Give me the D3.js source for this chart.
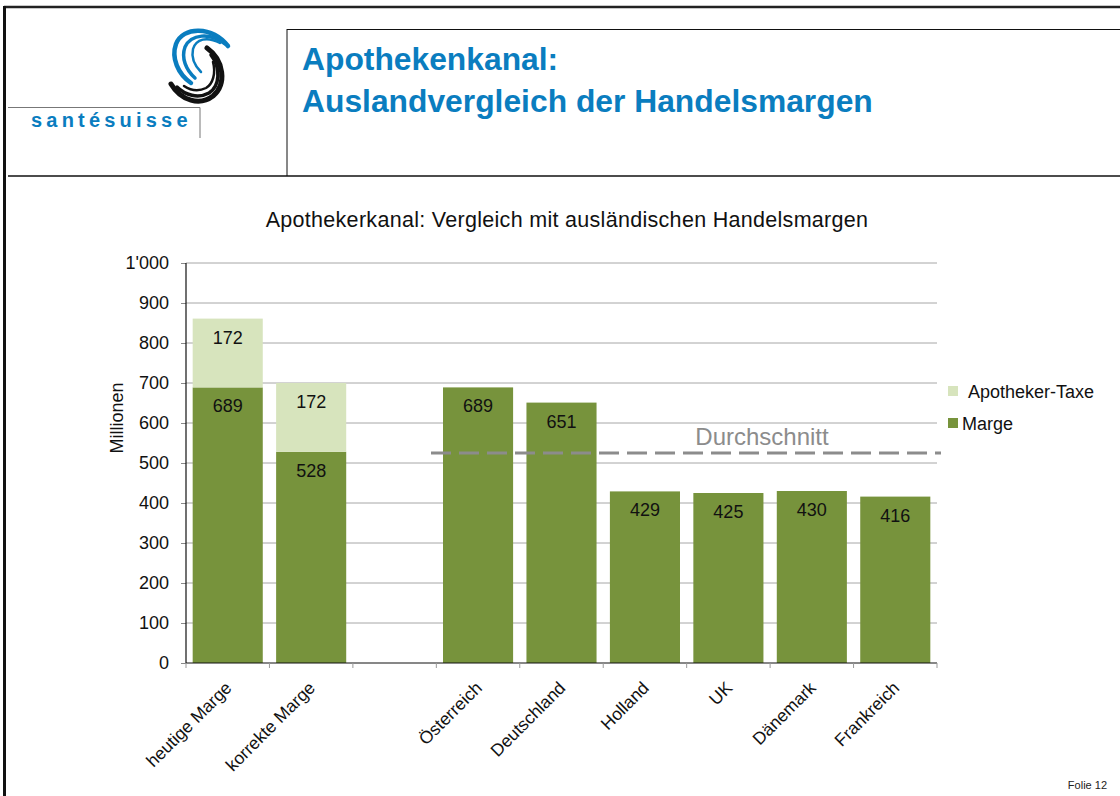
<!DOCTYPE html>
<html>
<head>
<meta charset="utf-8">
<script src="https://cdn.jsdelivr.net/npm/d3@7"></script>
<style>
  body { margin: 0; background: #fff; }
  svg { display: block; font-family: "Liberation Sans", Arial, sans-serif; }
</style>
</head>
<body>
<svg id="root" width="1120" height="796"></svg>
<script>
// data
const categories = ['heutige Marge', 'korrekte Marge', ' ', 'Österreich', 'Deutschland', 'Holland', 'UK', 'Dänemark', 'Frankreich'];
const marge = [689, 528, null, 689, 651, 429, 425, 430, 416];
const taxe = [172, 172, null, null, null, null, null, null, null];
const yTicks = [0, 100, 200, 300, 400, 500, 600, 700, 800, 900, 1000];
const avgValue = 525;
const avgFrom = 'Österreich';

const svg = d3.select('#root');

// slide frame
svg.append('line').attr('x1', 4).attr('y1', 7).attr('x2', 1120).attr('y2', 7)
  .attr('stroke', '#222').attr('stroke-width', 2.5);
svg.append('line').attr('x1', 4.5).attr('y1', 6).attr('x2', 4.5).attr('y2', 796)
  .attr('stroke', '#111').attr('stroke-width', 3);
svg.append('line').attr('x1', 8).attr('y1', 176).attr('x2', 1120).attr('y2', 176)
  .attr('stroke', '#111').attr('stroke-width', 1.5);
svg.append('line').attr('x1', 287).attr('y1', 29).attr('x2', 287).attr('y2', 176)
  .attr('stroke', '#111').attr('stroke-width', 1);
svg.append('line').attr('x1', 287).attr('y1', 29.5).attr('x2', 1120).attr('y2', 29.5)
  .attr('stroke', '#111').attr('stroke-width', 1);

// logo
const logo = svg.append('g');
logo.append('path').attr('d', 'M8,107.5 H200 V138').attr('fill', 'none')
  .attr('stroke', '#777').attr('stroke-width', 1);
logo.append('text').attr('x', 31).attr('y', 127).text('santésuisse')
  .attr('fill', '#0a7dbf').attr('font-size', 20).attr('font-weight', 'bold')
  .attr('letter-spacing', 4.2);

const swirl = [
  // blue arcs
  { d: 'M228,46 C212,26 183,26 176,44 C171,58 178,74 191,83', c: '#0a7dbf', w: 4.5 },
  { d: 'M225,44 C210,32 191,34 185,47 C181,58 186,70 195,78', c: '#0a7dbf', w: 3.5 },
  { d: 'M220,43 C207,36 196,39 193,49 C191,58 195,66 201,72', c: '#0a7dbf', w: 2.5 },
  // black arcs
  { d: 'M207,48 C224,60 227,84 213,96 C200,106 181,101 171,84', c: '#111', w: 5 },
  { d: 'M211,55 C221,68 220,86 209,93 C198,99 185,95 177,87', c: '#111', w: 3.5 },
  { d: 'M213,62 C216,73 213,84 206,88 C198,92 190,90 184,86', c: '#111', w: 2.5 }
];
logo.selectAll('path.sw').data(swirl).join('path').attr('class', 'sw')
  .attr('d', d => d.d).attr('fill', 'none')
  .attr('stroke', d => d.c).attr('stroke-width', d => d.w).attr('stroke-linecap', 'round');

// slide title
const title = svg.append('text').attr('fill', '#0a7dbf').attr('font-size', 31.8)
  .attr('font-weight', 'bold');
title.append('tspan').attr('x', 302).attr('y', 70).text('Apothekenkanal:');
title.append('tspan').attr('x', 302).attr('y', 112).text('Auslandvergleich der Handelsmargen');

// chart title
svg.append('text').attr('x', 567).attr('y', 227).attr('text-anchor', 'middle')
  .attr('font-size', 21.5).attr('fill', '#111').attr('letter-spacing', 0.3)
  .text('Apothekerkanal: Vergleich mit ausländischen Handelsmargen');

// scales
const plotL = 186, plotR = 937, plotT = 263, plotB = 663;
const x = d3.scaleBand().domain(categories).range([plotL, plotR])
  .paddingInner(0.16).paddingOuter(0.08);
const y = d3.scaleLinear().domain([0, 1000]).range([plotB, plotT]);

// gridlines
svg.append('g').selectAll('line').data(yTicks.slice(1)).join('line')
  .attr('x1', plotL).attr('x2', plotR)
  .attr('y1', d => y(d)).attr('y2', d => y(d))
  .attr('stroke', '#a6a6a6').attr('stroke-width', 1);

// y axis
const yAxis = svg.append('g').attr('transform', `translate(${plotL},0)`)
  .call(d3.axisLeft(y).tickValues(yTicks).tickSize(5).tickPadding(12)
    .tickFormat(d => d === 1000 ? "1'000" : d));
yAxis.select('.domain').remove();
yAxis.selectAll('.tick line').attr('stroke', '#888');
yAxis.selectAll('.tick text').attr('font-size', 18).attr('fill', '#111')
  .attr('font-family', '"Liberation Sans", Arial, sans-serif');

svg.append('text').attr('transform', 'translate(123,418) rotate(-90)')
  .attr('text-anchor', 'middle').attr('font-size', 18).attr('fill', '#111').text('Millionen');

// bars
const rows = categories.map((c, i) => ({ c, m: marge[i], t: taxe[i] }));
const barG = svg.append('g');
barG.selectAll('rect.m').data(rows.filter(d => d.m != null)).join('rect').attr('class', 'm')
  .attr('x', d => x(d.c)).attr('width', x.bandwidth())
  .attr('y', d => y(d.m)).attr('height', d => y(0) - y(d.m))
  .attr('fill', '#77933c');
barG.selectAll('rect.t').data(rows.filter(d => d.t != null)).join('rect').attr('class', 't')
  .attr('x', d => x(d.c)).attr('width', x.bandwidth())
  .attr('y', d => y(d.m + d.t)).attr('height', d => y(d.m) - y(d.m + d.t))
  .attr('fill', '#d7e4bd');

// value labels
barG.selectAll('text.m').data(rows.filter(d => d.m != null)).join('text').attr('class', 'm')
  .attr('x', d => x(d.c) + x.bandwidth() / 2).attr('y', d => y(d.m) + 25)
  .attr('text-anchor', 'middle').attr('font-size', 18).attr('fill', '#111')
  .text(d => d.m);
barG.selectAll('text.t').data(rows.filter(d => d.t != null)).join('text').attr('class', 't')
  .attr('x', d => x(d.c) + x.bandwidth() / 2).attr('y', d => y(d.m + d.t) + 25)
  .attr('text-anchor', 'middle').attr('font-size', 18).attr('fill', '#111')
  .text(d => d.t);

// axis lines
svg.append('line').attr('x1', plotL).attr('x2', plotL).attr('y1', plotT).attr('y2', plotB)
  .attr('stroke', '#111').attr('stroke-width', 1.2);
svg.append('line').attr('x1', plotL).attr('x2', plotR).attr('y1', plotB).attr('y2', plotB)
  .attr('stroke', '#111').attr('stroke-width', 1.2);

// x ticks at band boundaries
const step = x.step();
const bounds = d3.range(categories.length + 1).map(i => plotL + i * step);
svg.append('g').selectAll('line').data(bounds).join('line')
  .attr('x1', d => d).attr('x2', d => d).attr('y1', plotB).attr('y2', plotB + 5)
  .attr('stroke', '#999');

// x labels
svg.append('g').selectAll('text').data(categories.filter(c => c.trim())).join('text')
  .attr('transform', c => `translate(${x(c) + x.bandwidth() / 2 + 5},${plotB + 26}) rotate(-45)`)
  .attr('text-anchor', 'end').attr('font-size', 17.5).attr('fill', '#111')
  .text(c => c);

// average line
svg.append('line').attr('x1', x(avgFrom) - 12).attr('x2', plotR + 4)
  .attr('y1', y(avgValue)).attr('y2', y(avgValue))
  .attr('stroke', '#8c8c8c').attr('stroke-width', 2.8).attr('stroke-dasharray', '20,8');
svg.append('text').attr('x', 762).attr('y', y(avgValue) - 8).attr('text-anchor', 'middle')
  .attr('font-size', 24).attr('fill', '#8c8c8c').text('Durchschnitt');

// legend
const legend = [
  { name: 'Apotheker-Taxe', color: '#d7e4bd', y: 391, tx: 968 },
  { name: 'Marge', color: '#77933c', y: 423, tx: 962 }
];
const lg = svg.append('g').selectAll('g').data(legend).join('g');
lg.append('rect').attr('x', 948).attr('y', d => d.y - 5).attr('width', 10).attr('height', 10)
  .attr('fill', d => d.color);
lg.append('text').attr('x', d => d.tx).attr('y', d => d.y + 7).attr('font-size', 18)
  .attr('fill', '#111').text(d => d.name);

// footer
svg.append('text').attr('x', 1107).attr('y', 789).attr('text-anchor', 'end')
  .attr('font-size', 11).attr('fill', '#222').text('Folie 12');
</script>
</body>
</html>
